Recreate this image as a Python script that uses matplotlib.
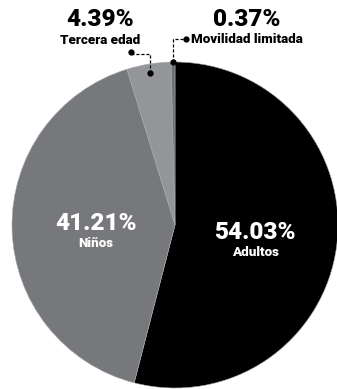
import numpy as np
import matplotlib
matplotlib.use("Agg")
import matplotlib.pyplot as plt

plt.rcParams['font.family'] = ['Roboto', 'DejaVu Sans']

# Distribución por grupo
labels = ['Adultos', 'Niños', 'Tercera edad', 'Movilidad limitada']
values = [54.03, 41.21, 4.39, 0.37]
colors = ['#000000', '#77787b', '#939598', '#6d6e71']

W, H = 337, 389
fig = plt.figure(figsize=(W / 100, H / 100), dpi=100)
ax = fig.add_axes([0, 0, 1, 1])

cx, cy, R = 175, 164, 163
wedges, _ = ax.pie(values, colors=colors, startangle=90, counterclock=False,
                   center=(cx, cy), radius=R,
                   wedgeprops=dict(edgecolor='#a7a9ac', linewidth=0.4))
ax.set_xlim(0, W)
ax.set_ylim(0, H)
ax.set_aspect('equal')
ax.axis('off')

big = dict(fontsize=17.5, fontweight='heavy', ha='center', va='center')
small = dict(fontsize=9.6, fontweight='heavy', va='center')


def mid_point(w, frac):
    ang = np.deg2rad((w.theta1 + w.theta2) / 2)
    return cx + frac * R * np.cos(ang), cy + frac * R * np.sin(ang)


# etiquetas dentro de los sectores grandes
for w, lab, val in zip(wedges[:2], labels[:2], values[:2]):
    x, y = mid_point(w, 0.49)
    ax.text(x + 1, y + 3, f'{val:.2f}%', color='white', **big)
    ax.text(x + 1, y - 17, lab, color='white', ha='center', **small)

line_kw = dict(color='black', linewidth=0.9, linestyle=(0, (2.5, 1.5)))
dot_kw = dict(color='black', markersize=3.5, marker='o', linestyle='none')

# Tercera edad: línea guía con codo
w = wedges[2]
x0, y0 = mid_point(w, 0.945)
ax.plot([x0, x0, x0 - 19], [y0, y0 + 19, y0 + 19], **line_kw)
ax.plot([x0, x0 - 19], [y0, y0 + 21], **dot_kw)
ax.text(x0 - 50, H - 19, f'{values[2]:.2f}%', **big)
ax.text(x0 - 50, H - 40, labels[2], ha='center', **small)

# Movilidad limitada: línea guía desde el borde
w = wedges[3]
x1, y1 = mid_point(w, 1.0)
ax.plot([x1, x1, x1 + 13], [y1, H - 39, H - 39], **line_kw)
ax.plot([x1, x1 + 13], [y1, H - 39], **dot_kw)
ax.text(x1 + 74, H - 19, f'{values[3]:.2f}%', **big)
ax.text(x1 + 18, H - 39, labels[3], ha='left', **small)

fig.savefig('out.png', dpi=100)
